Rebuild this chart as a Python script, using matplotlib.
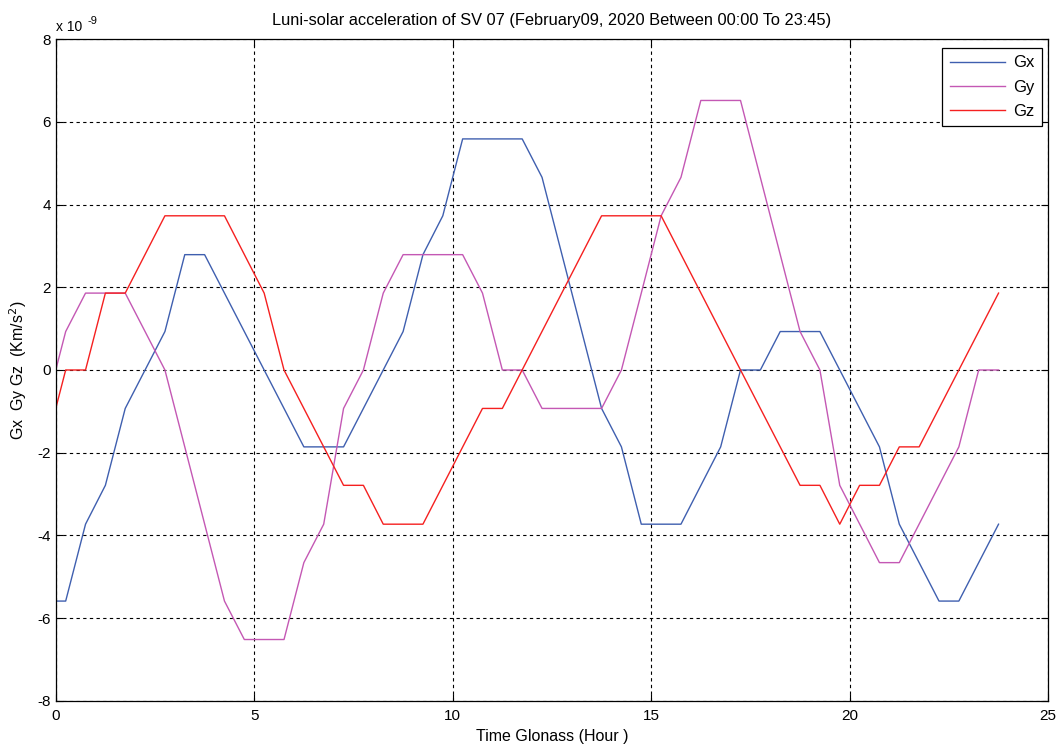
import numpy as np
import matplotlib.pyplot as plt

# breakpoints, hours and units of 1e-9 km/s^2
gx_t = [0, 0.25, 0.75, 1.25, 1.75, 2.75, 3.25, 3.75, 5.75, 6.25, 7.25, 7.75,
        8.75, 9.25, 9.75, 10.25, 11.75, 12.25, 13.75, 14.25, 14.75, 15.75,
        16.75, 17.25, 17.75, 18.25, 19.25, 20.75, 21.25, 22.25, 22.75, 23.75]
gx_v = [-5.59, -5.59, -3.73, -2.79, -0.93, 0.93, 2.79, 2.79, -0.93, -1.86,
        -1.86, -0.93, 0.93, 2.79, 3.73, 5.59, 5.59, 4.66, -0.93, -1.86,
        -3.73, -3.73, -1.86, 0.0, 0.0, 0.93, 0.93, -1.86, -3.73, -5.59,
        -5.59, -3.73]

gy_t = [0, 0.25, 0.75, 1.75, 2.25, 2.75, 3.25, 4.25, 4.75, 5.75, 6.25, 6.75,
        7.25, 7.75, 8.25, 8.75, 10.25, 10.75, 11.25, 11.75, 12.25, 13.75,
        14.25, 14.75, 15.25, 15.75, 16.25, 17.25, 18.75, 19.25, 19.75, 20.75,
        21.25, 22.75, 23.25, 23.75]
gy_v = [0.0, 0.93, 1.86, 1.86, 0.93, 0.0, -1.86, -5.59, -6.52, -6.52, -4.66,
        -3.73, -0.93, 0.0, 1.86, 2.79, 2.79, 1.86, 0.0, 0.0, -0.93, -0.93,
        0.0, 1.86, 3.73, 4.66, 6.52, 6.52, 0.93, 0.0, -2.79, -4.66, -4.66,
        -1.86, 0.0, 0.0]

gz_t = [0, 0.25, 0.75, 1.25, 1.75, 2.75, 4.25, 5.25, 5.75, 7.25, 7.75, 8.25,
        9.25, 10.75, 11.25, 13.75, 15.25, 17.25, 18.75, 19.25, 19.75, 20.25,
        20.75, 21.25, 21.75, 23.75]
gz_v = [-0.93, 0.0, 0.0, 1.86, 1.86, 3.73, 3.73, 1.86, 0.0, -2.79, -2.79,
        -3.73, -3.73, -0.93, -0.93, 3.73, 3.73, 0.0, -2.79, -2.79, -3.73,
        -2.79, -2.79, -1.86, -1.86, 1.86]

plt.rcParams['font.family'] = ['Liberation Sans', 'DejaVu Sans']
plt.rcParams['axes.unicode_minus'] = False

fig = plt.figure(figsize=(10.58, 7.44), dpi=100)
ax = fig.add_axes([0.0527, 0.0582, 0.938, 0.889])

ax.plot(gx_t, gx_v, color='#3f5faf', lw=1.0, label='Gx')
ax.plot(gy_t, gy_v, color='#c458b4', lw=1.0, label='Gy')
ax.plot(gz_t, gz_v, color='#f52020', lw=1.0, label='Gz')

ax.set_xlim(0, 25)
ax.set_ylim(-8, 8)
ax.set_xticks(np.arange(0, 26, 5))
ax.set_yticks(np.arange(-8, 9, 2))
ax.tick_params(direction='in', top=True, right=True, labelsize=11, length=5)
ax.tick_params(axis='x', pad=6)
ax.grid(True, color='black', linestyle=(0, (3, 3)), linewidth=0.8)
for s in ax.spines.values():
    s.set_linewidth(0.9)

ax.set_title('Luni-solar acceleration of SV 07 (February09, 2020 Between 00:00 To 23:45)',
             fontsize=11.8, pad=10)
ax.set_xlabel('Time Glonass (Hour )', fontsize=11.5, labelpad=4)
ax.set_ylabel(r'Gx  Gy Gz  (Km/s$^2$)', fontsize=11.5, labelpad=6)
ax.text(0.0, 1.008, 'x 10', transform=ax.transAxes, fontsize=10,
        ha='left', va='bottom')
ax.text(0.0315, 1.02, '-9', transform=ax.transAxes, fontsize=8,
        ha='left', va='bottom')

leg = ax.legend(loc='upper right', bbox_to_anchor=(0.9935, 0.987), fontsize=12,
                fancybox=False, framealpha=1, edgecolor='black',
                handlelength=3.3, handletextpad=0.5, labelspacing=0.55,
                borderpad=0.45, borderaxespad=0)
leg.get_frame().set_linewidth(0.9)

fig.savefig('out.png', dpi=100)
